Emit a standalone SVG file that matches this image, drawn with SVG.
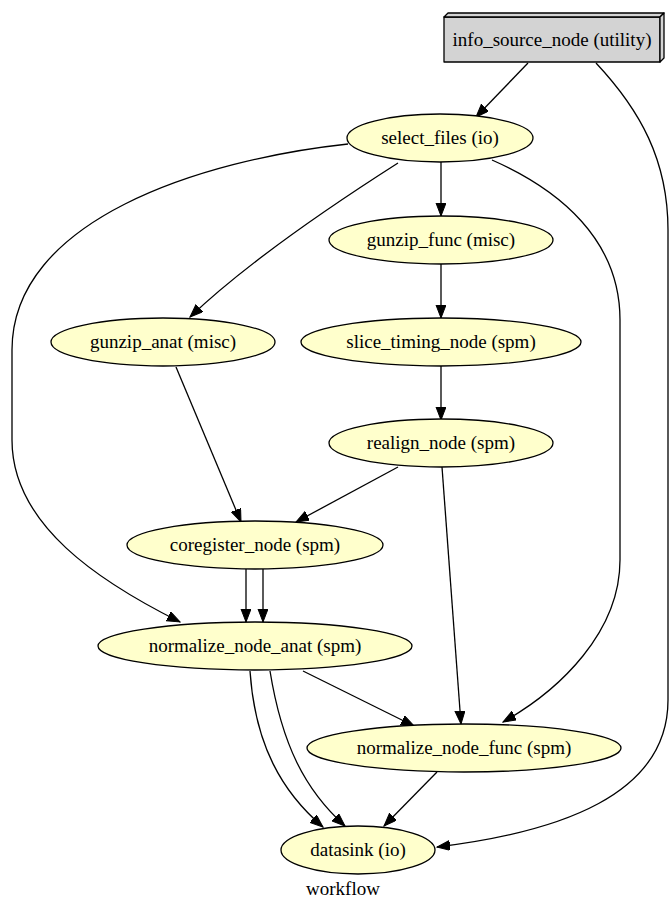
<svg xmlns="http://www.w3.org/2000/svg" width="670" height="899" viewBox="0 0 670 899">
<style>
.n ellipse{fill:#ffffcc;stroke:#000;stroke-width:1.3}
.t{font-family:"Liberation Serif","Times New Roman",serif;font-size:19px;text-anchor:middle;fill:#000}
.e path{fill:none;stroke:#000;stroke-width:1.3;marker-end:url(#ah)}
.box{fill:#d3d3d3;stroke:#000;stroke-width:1.3;stroke-linejoin:round}
</style>
<defs>
<marker id="ah" markerUnits="userSpaceOnUse" markerWidth="14" markerHeight="11" refX="13" refY="5" orient="auto" viewBox="0 0 14 11">
<path d="M0,0 L13,5 L0,10 z" fill="#000" stroke="#000" stroke-width="1"/>
</marker>
</defs>
<rect width="670" height="899" fill="#fff"/>
<g class="e" id="connectors">
<path d="M528,63 L476,117"/>
<path d="M596,63 C640,110 668,160 668,230 L668,700 C668,795 560,832 437,847"/>
<path d="M441,162 L441,216"/>
<path d="M398,163 C340,200 250,260 190,317"/>
<path d="M348,144 C200,160 12,220 12,350 L12,440 C12,525 100,582 180,622"/>
<path d="M492,160 C560,190 620,240 620,320 L620,560 C620,632 560,690 503,722"/>
<path d="M441,264 L441,318"/>
<path d="M441,366 L441,420"/>
<path d="M398,467 L296,522"/>
<path d="M442,467 L461,724"/>
<path d="M176,367 L241,522"/>
<path d="M246,569 L246,622"/>
<path d="M263,569 L263,622"/>
<path d="M303,671 L414,726"/>
<path d="M250,671 C255,745 282,792 323,827"/>
<path d="M270,671 C282,745 305,790 345,826"/>
<path d="M437,772 L384,826"/>
</g>
<g class="n" id="info_source_node">
<polygon class="box" points="444,17 660,17 660,62 444,62"/>
<polygon class="box" points="444,17 448,13 664,13 660,17"/>
<polygon class="box" points="660,17 664,13 664,58 660,62"/>
<text class="t" x="552" y="46">info_source_node (utility)</text>
</g>
<g class="n" id="select_files"><ellipse cx="440" cy="138" rx="93" ry="24"/><text class="t" x="440" y="144">select_files (io)</text></g>
<g class="n" id="gunzip_func"><ellipse cx="441" cy="240" rx="112" ry="24"/><text class="t" x="441" y="246">gunzip_func (misc)</text></g>
<g class="n" id="gunzip_anat"><ellipse cx="163" cy="342" rx="112" ry="24"/><text class="t" x="163" y="348">gunzip_anat (misc)</text></g>
<g class="n" id="slice_timing_node"><ellipse cx="441" cy="342" rx="140" ry="24"/><text class="t" x="441" y="348">slice_timing_node (spm)</text></g>
<g class="n" id="realign_node"><ellipse cx="441" cy="443" rx="112" ry="24"/><text class="t" x="441" y="449">realign_node (spm)</text></g>
<g class="n" id="coregister_node"><ellipse cx="255" cy="545" rx="128" ry="24"/><text class="t" x="255" y="551">coregister_node (spm)</text></g>
<g class="n" id="normalize_node_anat"><ellipse cx="255" cy="646" rx="157" ry="24"/><text class="t" x="255" y="652">normalize_node_anat (spm)</text></g>
<g class="n" id="normalize_node_func"><ellipse cx="464" cy="748" rx="157" ry="24"/><text class="t" x="464" y="754">normalize_node_func (spm)</text></g>
<g class="n" id="datasink"><ellipse cx="358" cy="850" rx="77" ry="24"/><text class="t" x="358" y="856">datasink (io)</text></g>
<text class="t" x="343" y="895">workflow</text>
</svg>
